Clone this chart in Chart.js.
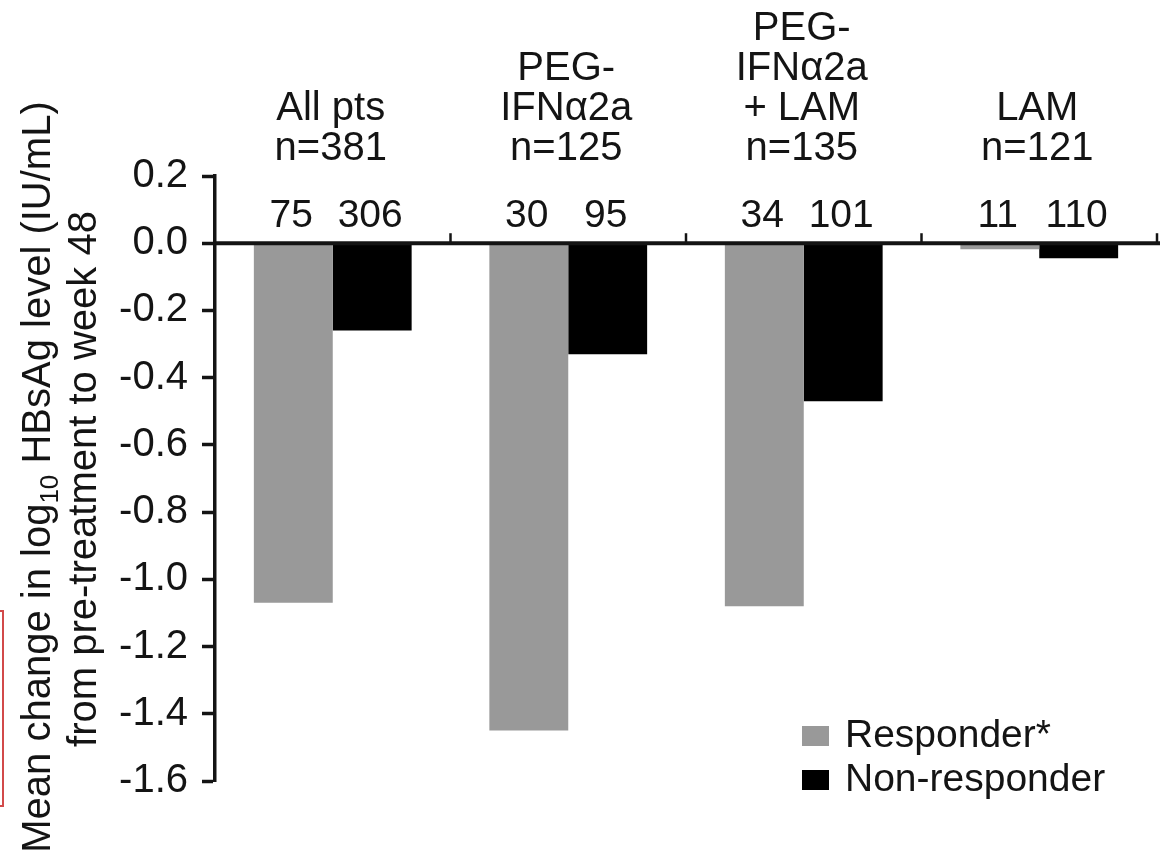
<!DOCTYPE html>
<html>
<head>
<meta charset="utf-8">
<title>HBsAg change by response</title>
<script src="https://cdn.jsdelivr.net/npm/chart.js@4/dist/chart.umd.min.js"></script>
<style>
  html, body { margin: 0; padding: 0; background: #fff; }
  #wrap { width: 1160px; height: 852px; position: relative; }
</style>
</head>
<body>
<div id="wrap"><canvas id="chart"></canvas></div>
<script>
// data
const groups = ["All pts", "PEG-IFNα2a", "PEG-IFNα2a + LAM", "LAM"];
const groupLines = [
  ["All pts", "n=381"],
  ["PEG-", "IFNα2a", "n=125"],
  ["PEG-", "IFNα2a", "+ LAM", "n=135"],
  ["LAM", "n=121"]
];
const responder = [-1.07, -1.45, -1.08, -0.018];
const nonResponder = [-0.26, -0.33, -0.47, -0.045];
const responderN = [75, 30, 34, 11];
const nonResponderN = [306, 95, 101, 110];
const yTicks = [0.2, 0.0, -0.2, -0.4, -0.6, -0.8, -1.0, -1.2, -1.4, -1.6];

const FONT = '"Liberation Sans", Arial, Helvetica, sans-serif';
const INK = "#141414";
const GREY = "#999999";

// draws the zero axis, group separators, labels, legend and y title
const decorations = {
  id: "decorations",
  afterDatasetsDraw(chart) {
    const ctx = chart.ctx;
    const xs = chart.scales.x;
    const ys = chart.scales.y;
    const area = chart.chartArea;
    const y0 = ys.getPixelForValue(0);
    const half = (xs.getPixelForValue(1) - xs.getPixelForValue(0)) / 2;

    ctx.save();
    // zero line
    ctx.strokeStyle = INK;
    ctx.lineWidth = 4;
    ctx.beginPath();
    ctx.moveTo(area.left, y0);
    ctx.lineTo(chart.width, y0);
    ctx.stroke();

    // separator ticks between groups
    ctx.lineWidth = 2.5;
    groups.forEach((g, i) => {
      const sx = xs.getPixelForValue(i) + half;
      ctx.beginPath();
      ctx.moveTo(sx, y0);
      ctx.lineTo(sx, y0 - 10);
      ctx.stroke();
    });

    // group headings
    ctx.fillStyle = INK;
    ctx.font = "40px " + FONT;
    ctx.textAlign = "center";
    ctx.textBaseline = "alphabetic";
    groupLines.forEach((lines, i) => {
      const cx = xs.getPixelForValue(i) - 2;
      lines.forEach((t, k) => {
        const by = 160 - (lines.length - 1 - k) * 40;
        ctx.fillText(t, cx, by);
      });
    });

    // counts above each bar
    ctx.font = "39px " + FONT;
    const m0 = chart.getDatasetMeta(0);
    const m1 = chart.getDatasetMeta(1);
    groups.forEach((g, i) => {
      ctx.fillText(String(responderN[i]), m0.data[i].x - 2, 227);
      ctx.fillText(String(nonResponderN[i]), m1.data[i].x - 2, 227);
    });

    // legend
    ctx.textAlign = "left";
    chart.data.datasets.forEach((ds, i) => {
      const ly = 726 + i * 44;
      ctx.fillStyle = ds.backgroundColor;
      ctx.fillRect(802, ly, 27, 20);
      ctx.fillStyle = INK;
      ctx.fillText(ds.label, 845, ly + 21);
    });

    // y axis title, rotated, with subscript
    const cy = 477;
    const big = "40px " + FONT;
    const small = "26px " + FONT;
    const parts = [
      { t: "Mean change in log", f: big, dy: 0 },
      { t: "10", f: small, dy: 8 },
      { t: " HBsAg level (IU/mL)", f: big, dy: 0 }
    ];
    let total = 0;
    parts.forEach(p => { ctx.font = p.f; p.w = ctx.measureText(p.t).width; total += p.w; });
    ctx.save();
    ctx.translate(50, cy);
    ctx.rotate(-Math.PI / 2);
    let px = -total / 2;
    parts.forEach(p => {
      ctx.font = p.f;
      ctx.fillText(p.t, px, p.dy);
      px += p.w;
    });
    ctx.restore();
    ctx.save();
    ctx.translate(96, cy + 2);
    ctx.rotate(-Math.PI / 2);
    ctx.font = big;
    ctx.textAlign = "center";
    ctx.fillText("from pre-treatment to week 48", 0, 0);
    ctx.restore();

    // stray red frame at the left edge of the source image
    ctx.strokeStyle = "#d24a4a";
    ctx.lineWidth = 2;
    ctx.strokeRect(-10, 611, 13, 195);
    ctx.restore();
  }
};

new Chart(document.getElementById("chart"), {
  type: "bar",
  data: {
    labels: groups,
    datasets: [
      { label: "Responder*", data: responder, backgroundColor: GREY },
      { label: "Non-responder", data: nonResponder, backgroundColor: "#000000" }
    ]
  },
  options: {
    responsive: true,
    maintainAspectRatio: false,
    animation: false,
    layout: { padding: { left: 0, right: 3, top: 176, bottom: 71 } },
    datasets: { bar: { barPercentage: 1, categoryPercentage: 0.67 } },
    plugins: { legend: { display: false }, tooltip: { enabled: false } },
    scales: {
      x: { display: false },
      y: {
        min: -1.6,
        max: 0.2,
        afterBuildTicks: s => { s.ticks = yTicks.map(v => ({ value: v })); },
        afterFit: s => { s.width = 215; },
        ticks: {
          padding: 14,
          color: INK,
          font: { family: FONT, size: 40 },
          callback: v => Number(v).toFixed(1)
        },
        grid: {
          drawOnChartArea: false,
          tickLength: 13,
          tickColor: INK,
          tickWidth: 3.5,
          color: INK
        },
        border: { color: INK, width: 3.5 }
      }
    }
  },
  plugins: [decorations]
});
</script>
</body>
</html>
